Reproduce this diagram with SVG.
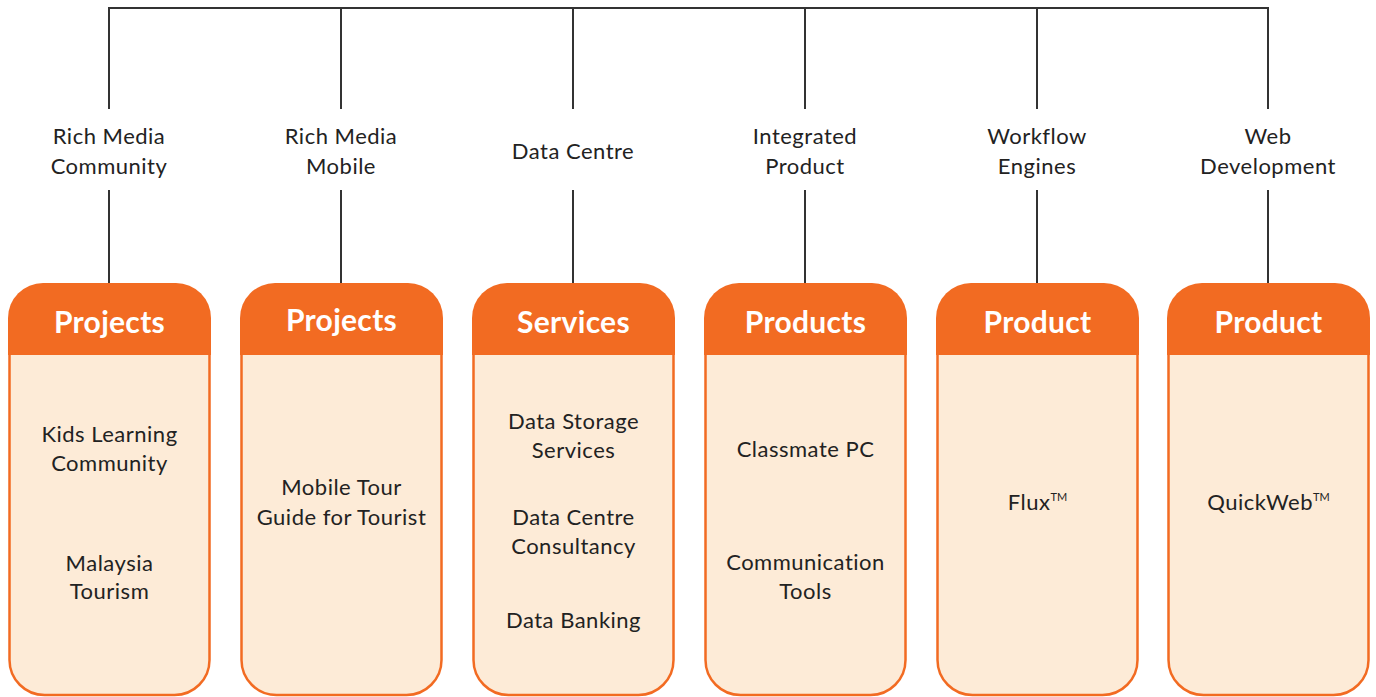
<svg xmlns="http://www.w3.org/2000/svg" width="1376" height="697" viewBox="0 0 1376 697">
<style>
.lbl{font-family:Lato,"Open Sans",sans-serif;font-size:22px;letter-spacing:0.5px;fill:#222;text-anchor:middle}
.hd{font-family:Lato,"Open Sans",sans-serif;font-size:30px;font-weight:bold;letter-spacing:0.3px;fill:#fff;text-anchor:middle}
.body{fill:#FDEBD7;stroke:#F26B22;stroke-width:2.5}
.head{fill:#F26B22}
.ln{stroke:#333;stroke-width:2;fill:none}
</style>
<defs>
<path id="bodyShape" d="M1.5,40 H201.5 V377 A35,35 0 0 1 166.5,412 H36.5 A35,35 0 0 1 1.5,377 Z"/>
<path id="headShape" d="M0,72 V35 A35,35 0 0 1 35,0 H168 A35,35 0 0 1 203,35 V72 Z"/>
</defs>
<g id="connectors">
<path class="ln" d="M109,109 V8 H1268 V109 M341,8 V109 M573,8 V109 M805,8 V109 M1037,8 V109"/>
<path class="ln" d="M109,190 V283 M341,190 V283 M573,190 V283 M805,190 V283 M1037,190 V283 M1268,190 V283"/>
</g>
<g id="labels">
<text class="lbl" x="109" y="144">Rich Media</text><text class="lbl" x="109" y="174">Community</text>
<text class="lbl" x="341" y="144">Rich Media</text><text class="lbl" x="341" y="174">Mobile</text>
<text class="lbl" x="573" y="159">Data Centre</text>
<text class="lbl" x="805" y="144">Integrated</text><text class="lbl" x="805" y="174">Product</text>
<text class="lbl" x="1037" y="144">Workflow</text><text class="lbl" x="1037" y="174">Engines</text>
<text class="lbl" x="1268" y="144">Web</text><text class="lbl" x="1268" y="174">Development</text>
</g>
<g id="node1" transform="translate(8,283)">
<use href="#bodyShape" class="body"/><use href="#headShape" class="head"/>
<text class="hd" x="101.5" y="50">Projects</text>
<text class="lbl" x="101.5" y="159">Kids Learning</text><text class="lbl" x="101.5" y="188">Community</text>
<text class="lbl" x="101.5" y="288">Malaysia</text><text class="lbl" x="101.5" y="316">Tourism</text>
</g>
<g id="node2" transform="translate(240,283)">
<use href="#bodyShape" class="body"/><use href="#headShape" class="head"/>
<text class="hd" x="101.5" y="48">Projects</text>
<text class="lbl" x="101.5" y="212">Mobile Tour</text><text class="lbl" x="101.5" y="242">Guide for Tourist</text>
</g>
<g id="node3" transform="translate(472,283)">
<use href="#bodyShape" class="body"/><use href="#headShape" class="head"/>
<text class="hd" x="101.5" y="50">Services</text>
<text class="lbl" x="101.5" y="146">Data Storage</text><text class="lbl" x="101.5" y="175">Services</text>
<text class="lbl" x="101.5" y="242">Data Centre</text><text class="lbl" x="101.5" y="271">Consultancy</text>
<text class="lbl" x="101.5" y="345">Data Banking</text>
</g>
<g id="node4" transform="translate(704,283)">
<use href="#bodyShape" class="body"/><use href="#headShape" class="head"/>
<text class="hd" x="101.5" y="50">Products</text>
<text class="lbl" x="101.5" y="174">Classmate PC</text>
<text class="lbl" x="101.5" y="287">Communication</text><text class="lbl" x="101.5" y="316">Tools</text>
</g>
<g id="node5" transform="translate(936,283)">
<use href="#bodyShape" class="body"/><use href="#headShape" class="head"/>
<text class="hd" x="101.5" y="50">Product</text>
<text class="lbl" x="101.5" y="227">Flux<tspan font-size="11" dy="-9" letter-spacing="0">TM</tspan></text>
</g>
<g id="node6" transform="translate(1167,283)">
<use href="#bodyShape" class="body"/><use href="#headShape" class="head"/>
<text class="hd" x="101.5" y="50">Product</text>
<text class="lbl" x="101.5" y="227">QuickWeb<tspan font-size="11" dy="-9" letter-spacing="0">TM</tspan></text>
</g>
</svg>
